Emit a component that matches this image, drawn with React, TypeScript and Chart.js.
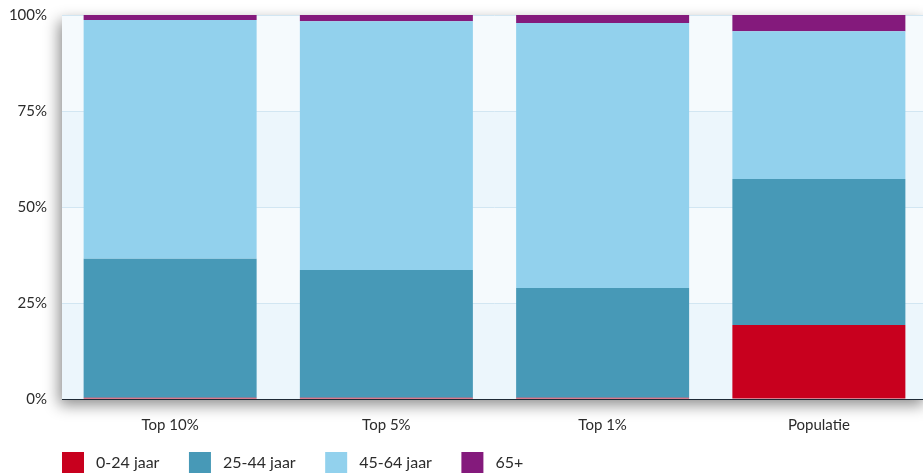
import React, { useEffect, useRef } from "react";
import { Chart, registerables } from "chart.js";

Chart.register(...registerables);

const categories = ["Top 10%", "Top 5%", "Top 1%", "Populatie"];
const seriesLabels = ["0-24 jaar", "25-44 jaar", "45-64 jaar", "65+"];
const age0to24 = [0.3, 0.3, 0.3, 19.3];
const age25to44 = [36.2, 33.3, 28.6, 38.0];
const age45to64 = [62.2, 64.8, 69.0, 38.5];
const age65plus = [1.3, 1.6, 2.1, 4.2];
const yTicks = [0, 25, 50, 75, 100];

const colors = ["#c8001e", "#4799b7", "#92d1ed", "#841a7c"];
const FONT = "Lato, 'Open Sans', sans-serif";
const TEXT = "#2b2b2b";

const bgPlugin = {
  id: "bgPlugin",
  beforeDraw(chart: any) {
    const { ctx, chartArea } = chart;
    const { left, top, right, bottom } = chartArea;
    const y = chart.scales.y;
    ctx.save();
    ctx.shadowColor = "rgba(0,0,0,0.45)";
    ctx.shadowBlur = 14;
    ctx.shadowOffsetX = -3;
    ctx.shadowOffsetY = 6;
    ctx.fillStyle = "#ffffff";
    ctx.fillRect(left, top, right - left, bottom - top);
    ctx.restore();
    ctx.save();
    for (let i = 0; i < yTicks.length - 1; i++) {
      const y0 = y.getPixelForValue(yTicks[i]);
      const y1 = y.getPixelForValue(yTicks[i + 1]);
      ctx.fillStyle = i % 2 === 0 ? "#ecf6fc" : "#f5fafd";
      ctx.fillRect(left, y1, right - left, y0 - y1);
    }
    ctx.restore();
  },
};

const legendPlugin = {
  id: "customLegend",
  afterDraw(chart: any) {
    const { ctx, chartArea } = chart;
    ctx.save();
    ctx.font = `16px ${FONT}`;
    ctx.textBaseline = "middle";
    let x = chartArea.left;
    const yTop = 452;
    chart.data.datasets.forEach((ds: any) => {
      ctx.fillStyle = ds.backgroundColor;
      ctx.fillRect(x, yTop, 22, 22);
      ctx.fillStyle = TEXT;
      ctx.fillText(ds.label, x + 34, yTop + 11);
      x += 34 + ctx.measureText(ds.label).width + 29.5;
    });
    ctx.restore();
  },
};

export default function App() {
  const ref = useRef<HTMLCanvasElement>(null);
  useEffect(() => {
    document.body.style.margin = "0";
    document.body.style.overflow = "hidden";
    const values = [age0to24, age25to44, age45to64, age65plus];
    const chart = new Chart(ref.current!, {
      type: "bar",
      data: {
        labels: categories,
        datasets: seriesLabels.map((l, i) => ({
          label: l,
          data: values[i],
          backgroundColor: colors[i],
          borderWidth: 0,
          categoryPercentage: 0.8,
          barPercentage: 1,
        })),
      },
      options: {
        animation: false,
        responsive: false,
        maintainAspectRatio: false,
        layout: { padding: { top: 15, bottom: 30, left: 0, right: 0 } },
        plugins: {
          legend: { display: false },
          tooltip: { enabled: false },
        },
        scales: {
          x: {
            stacked: true,
            grid: { display: false, drawTicks: false },
            border: { display: true, color: "#1e2a36", width: 1 },
            ticks: {
              color: TEXT,
              font: { family: FONT, size: 15 },
              padding: 17,
            },
            afterFit(scale: any) {
              scale.height = 44;
              scale.paddingLeft = 0;
              scale.paddingRight = 0;
            },
          },
          y: {
            stacked: true,
            min: 0,
            max: 100,
            afterBuildTicks(scale: any) {
              scale.ticks = yTicks.map((v) => ({ value: v }));
            },
            grid: { color: "#d2e6f2", drawTicks: false, lineWidth: 1 },
            border: { display: false },
            ticks: {
              color: TEXT,
              font: { family: FONT, size: 15 },
              padding: 15,
              callback: (v: any) => `${v}%`,
            },
            afterFit(scale: any) {
              scale.width = 62;
              scale.paddingTop = 0;
              scale.paddingBottom = 0;
            },
          },
        },
      },
      plugins: [bgPlugin, legendPlugin],
    });
    return () => chart.destroy();
  }, []);
  return (
    <div style={{ width: 927, height: 473 }}>
      <canvas ref={ref} width={927} height={473} style={{ display: "block" }} />
    </div>
  );
}
